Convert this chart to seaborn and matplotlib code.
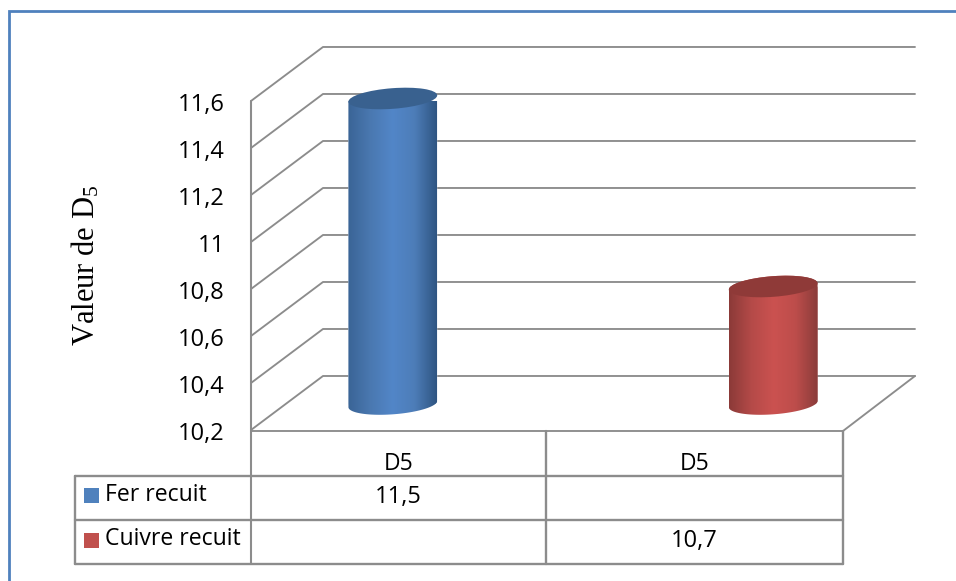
import numpy as np
import pandas as pd
import matplotlib
matplotlib.use("Agg")
import matplotlib.pyplot as plt
import seaborn as sns
from matplotlib.colors import LinearSegmentedColormap
from matplotlib.patches import Ellipse, PathPatch, Rectangle
from matplotlib.path import Path
from matplotlib.transforms import Affine2D, IdentityTransform

categories = ["D5", "D5"]
groups = [0, 1]
series = ["Fer recuit", "Cuivre recuit"]
values = [11.5, 10.7]
y_ticks = [10.2, 10.4, 10.6, 10.8, 11.0, 11.2, 11.4, 11.6]
y_labels = ["10,2", "10,4", "10,6", "10,8", "11", "11,2", "11,4", "11,6"]

FIG_W, FIG_H = 956, 581
LEFT, RIGHT, TOP, BASE = 251, 843, 101, 430
DX, DY = 72, 54
GREY = "#8c8c8c"
colors = {"Fer recuit": "#4f81bd", "Cuivre recuit": "#c0504d"}
shades = {
    "Fer recuit": (["#3a6496", "#4a78b0", "#5286c8", "#4d7db8", "#2f5582"], "#39618f"),
    "Cuivre recuit": (["#8b3a38", "#b44a48", "#cb5250", "#bd4d4b", "#8a3c3a"], "#8f3a38"),
}

sns.set_theme(style="white")
plt.rcParams["font.family"] = ["Open Sans", "DejaVu Sans"]
plt.rcParams["mathtext.default"] = "regular"

fig = plt.figure(figsize=(FIG_W / 100, (FIG_H + 0.01) / 100), dpi=100, facecolor="white")

# pixel overlay for walls, table and frame
bg = fig.add_axes([0, 0, 1, 1], zorder=0)
bg.set_xlim(0, FIG_W)
bg.set_ylim(FIG_H, 0)
bg.axis("off")

ax = fig.add_axes(
    [LEFT / FIG_W, 1 - BASE / FIG_H, (RIGHT - LEFT) / FIG_W, (BASE - TOP) / FIG_H],
    zorder=1,
)
ax.patch.set_alpha(0)

df = pd.DataFrame({"group": groups, "serie": series, "valeur": values})
sns.barplot(
    data=df, x="group", y="valeur", hue="serie", hue_order=series,
    palette=colors, width=0.57, dodge=True, legend=False, ax=ax,
)
ax.set_xlim(-0.5, 1.5)
ax.set_ylim(y_ticks[0], y_ticks[-1])
sns.despine(ax=ax, left=True, bottom=True, top=True, right=True)
ax.set_xlabel("")
ax.set_ylabel("")
ax.set_yticks(y_ticks)
ax.set_yticklabels(y_labels, fontsize=17)
ax.set_xticks(groups)
ax.set_xticklabels(categories, fontsize=16.5)
ax.tick_params(axis="y", length=0, pad=19, colors="black")
ax.tick_params(axis="x", length=0, pad=15.5, colors="black")
for lab in ax.get_yticklabels():
    lab.set_transform(lab.get_transform() + Affine2D().translate(0, -1))


def px(x, y):
    p = ax.transData.transform((x, y))
    return p[0], FIG_H - p[1]


# walls, floor
for v in y_ticks:
    _, y = px(0, v)
    bg.plot([LEFT, LEFT + DX, RIGHT + DX], [y, y - DY, y - DY], color=GREY, lw=1.35)
bg.plot([LEFT, RIGHT, RIGHT + DX], [BASE + 1, BASE + 1, BASE - DY], color=GREY, lw=1.35)

# cylinders, half way through the depth
tilt = np.radians(4.3)
b = 10.3
grow = 1.055
shift = (DX / 2, DY / 2 - 1)
bar_patches = [p for p in ax.patches if p.get_width() > 0 and p.get_height() > 0]
for patch, name, val in zip(bar_patches, series, values):
    xc = patch.get_x() + patch.get_width() / 2
    w = patch.get_width() * grow
    x0 = xc - w / 2
    offset = Affine2D().translate(*shift)
    top = ax.transData.transform((xc, val)) + shift
    bottom = ax.transData.transform((xc, y_ticks[0])) + shift
    a = abs(ax.transData.transform((x0 + w, val))[0] - ax.transData.transform((x0, val))[0]) / 2

    def ring(c, t):
        ex, ey = a * np.cos(t), b * np.sin(t)
        return np.column_stack([
            c[0] + ex * np.cos(tilt) - ey * np.sin(tilt),
            c[1] + ex * np.sin(tilt) + ey * np.cos(tilt),
        ])

    outline = np.vstack([
        ring(bottom, np.linspace(np.pi, 2 * np.pi, 60)),
        ring(top, np.linspace(0, np.pi, 60)),
    ])
    clip = PathPatch(Path(outline, closed=False), transform=IdentityTransform())

    patch.set_x(x0)
    patch.set_width(w)
    patch.set_y(y_ticks[0])
    patch.set_height(val - y_ticks[0])
    patch.set_transform(ax.transData + offset)
    patch.set_clip_path(clip)

    cols, lid = shades[name]
    cmap = LinearSegmentedColormap.from_list(name, cols)
    im = ax.imshow(
        np.linspace(0, 1, 256).reshape(1, -1), cmap=cmap, aspect="auto", zorder=3,
        extent=(x0, x0 + w, y_ticks[0] - 0.1, val + 0.1), interpolation="bilinear",
    )
    im.set_transform(ax.transData + offset)
    im.set_clip_path(clip)
    ax.add_patch(Ellipse(top, 2 * a, 2 * b, angle=np.degrees(tilt), facecolor=lid,
                         edgecolor="none", transform=IdentityTransform(), zorder=4,
                         clip_on=False))
ax.set_xlim(-0.5, 1.5)
ax.set_ylim(y_ticks[0], y_ticks[-1])

# data table
rows = [476, 520, 564]
mid = px(0.5, y_ticks[0])[0] - 1
bg.plot([LEFT, LEFT], [TOP, rows[-1]], color=GREY, lw=1.5)
bg.plot([mid, mid], [BASE + 1, rows[-1]], color=GREY, lw=1.7)
bg.plot([RIGHT, RIGHT], [BASE + 1, rows[-1]], color=GREY, lw=1.7)
bg.plot([75, 75], [rows[0], rows[-1]], color=GREY, lw=1.7)
for y in rows:
    bg.plot([75, RIGHT], [y, y], color=GREY, lw=1.7)
for i, (name, val) in enumerate(zip(series, values)):
    ymid = (rows[i] + rows[i + 1]) / 2
    bg.add_patch(Rectangle((84, ymid - 9.5 + i * 0.5), 15, 15, facecolor=colors[name], edgecolor="none"))
    bg.text(105, ymid - 3, name, fontsize=16.6, va="center", ha="left", color="black")
    bg.text(px(groups[i], 0)[0] - 1, ymid - 1, f"{val}".replace(".", ","), fontsize=17,
            va="center", ha="center", color="black")

bg.text(86, 265, "Valeur de D$_5$", rotation=90, fontsize=22, family="Liberation Serif",
        va="center", ha="center", color="black")

# outer frame, open on the right and at the bottom
bg.plot([9, 9, FIG_W], [FIG_H, 11, 11], color="#4f81bd", lw=2.0, solid_joinstyle="miter")

fig.savefig("out.png", dpi=100)
